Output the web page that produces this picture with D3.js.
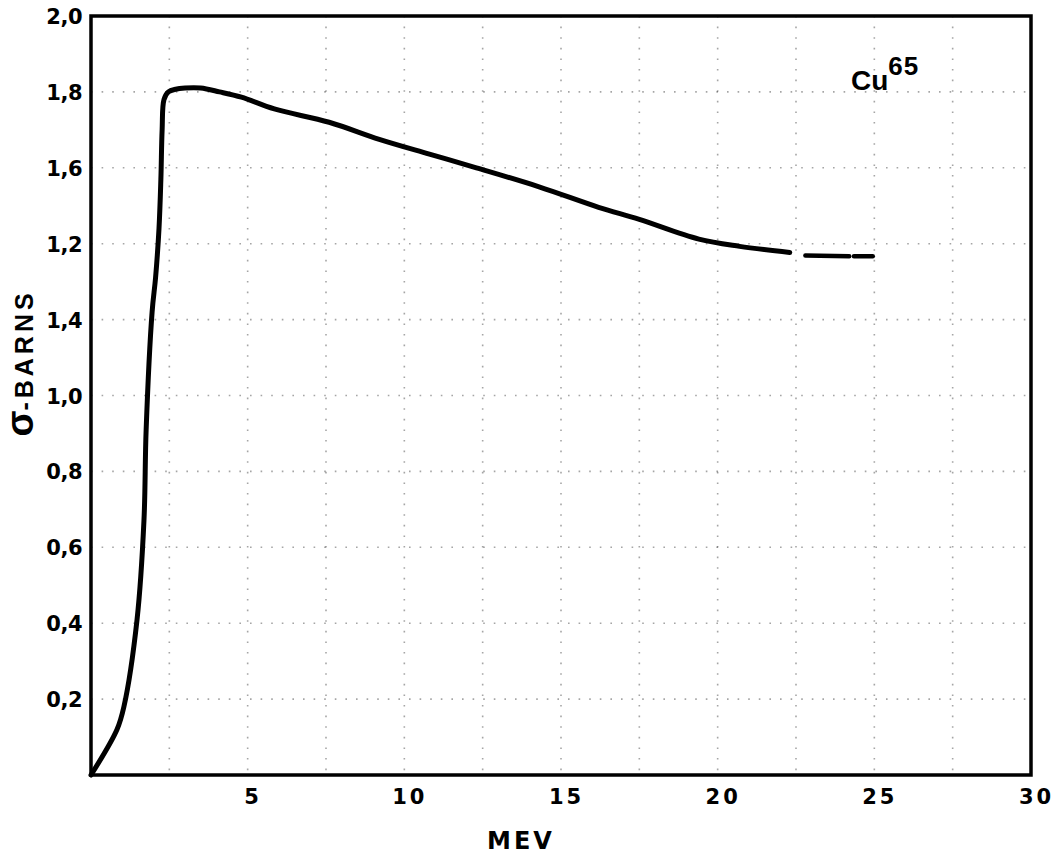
<!DOCTYPE html>
<html><head><meta charset="utf-8">
<script src="https://cdn.jsdelivr.net/npm/d3@7"></script>
<style>body{margin:0;background:#fff}</style>
</head><body>
<svg id="c" width="1058" height="860"></svg>
<script>
// ---- data ----
const energyMeV  = [0, 0.83, 1.05, 1.47, 1.69, 1.76, 1.95, 2.06, 2.17, 2.23, 2.27, 2.33, 2.47, 2.7, 3.0, 3.5, 4.1, 4.8, 5.85, 7.6, 9.2, 10.8, 12.3, 14.3, 16.2, 17.5, 19.4, 20.7, 22.3];
const sigmaBarns = [0, 0.12, 0.18, 0.41, 0.67, 0.91, 1.22, 1.31, 1.44, 1.57, 1.70, 1.78, 1.80, 1.807, 1.81, 1.81, 1.80, 1.786, 1.755, 1.72, 1.675, 1.636, 1.60, 1.55, 1.496, 1.464, 1.412, 1.393, 1.377];
const dashEnergy = [[22.8, 24.2], [24.35, 24.95]];
const dashSigma  = [[1.369, 1.367], [1.367, 1.367]];
const xTickValues = [5, 10, 15, 20, 25, 30];
const xTickLabels = ["5", "10", "15", "20", "25", "30"];
const yTickValues = [0.2, 0.4, 0.6, 0.8, 1.0, 1.2, 1.4, 1.6, 1.8, 2.0];
const yTickLabels = ["0,2", "0,4", "0,6", "0,8", "1,0", "1,4", "1,2", "1,6", "1,8", "2,0"];
const xGridValues = [2.5, 5, 7.5, 10, 12.5, 15, 17.5, 20, 22.5, 25, 27.5];
const yGridValues = [0.2, 0.4, 0.6, 0.8, 1.0, 1.2, 1.4, 1.6, 1.8];
const xTitle = "MEV";
const yTitleSymbol = "σ";
const yTitleText = "-BARNS";
const isotope = "Cu";
const massNumber = "65";

// ---- layout ----
const L = 91, R = 1031, T = 16, B = 775;
const svg = d3.select("#c");
const x = d3.scaleLinear().domain([0, 30]).range([L, R]);
const y = d3.scaleLinear().domain([0, 2]).range([B, T]);
const font = "'DejaVu Sans', sans-serif";

// dotted grid (faint, like the scan)
svg.append("g").selectAll("line").data(xGridValues).join("line")
  .attr("x1", d => x(d)).attr("x2", d => x(d)).attr("y1", T).attr("y2", B)
  .attr("stroke", "#000").attr("stroke-width", 1.6).attr("stroke-dasharray", "1.6 9").attr("opacity", 0.35);
svg.append("g").selectAll("line").data(yGridValues).join("line")
  .attr("y1", d => y(d)).attr("y2", d => y(d)).attr("x1", L).attr("x2", R)
  .attr("stroke", "#000").attr("stroke-width", 1.6).attr("stroke-dasharray", "1.6 9").attr("opacity", 0.35);

// axes
const xAxis = svg.append("g").attr("transform", `translate(0,${B})`)
  .call(d3.axisBottom(x).tickValues(xTickValues).tickSize(0).tickPadding(0)
    .tickFormat((d, i) => xTickLabels[i]));
xAxis.select(".domain").remove();
xAxis.selectAll("text").attr("y", 29).attr("dy", 0).attr("dx", 5)
  .attr("font-family", font).attr("font-weight", "bold").attr("font-size", 21)
  .attr("letter-spacing", 3).attr("fill", "#000");

const yAxis = svg.append("g").attr("transform", `translate(${L},0)`)
  .call(d3.axisLeft(y).tickValues(yTickValues).tickSize(0).tickPadding(9)
    .tickFormat((d, i) => yTickLabels[i]));
yAxis.select(".domain").remove();
yAxis.selectAll("text").attr("dy", "0.36em").attr("dx", 0)
  .attr("font-family", font).attr("font-weight", "bold").attr("font-size", 21)
  .attr("letter-spacing", -0.5).attr("fill", "#000");

// frame
svg.append("rect").attr("x", L).attr("y", T).attr("width", R - L).attr("height", B - T)
  .attr("fill", "none").attr("stroke", "#000").attr("stroke-width", 3.5);

// curve
const pts = energyMeV.map((e, i) => [e, sigmaBarns[i]]);
const line = d3.line().x(d => x(d[0])).y(d => y(d[1])).curve(d3.curveCatmullRom.alpha(0.5));
svg.append("path").attr("d", line(pts)).attr("fill", "none").attr("stroke", "#000")
  .attr("stroke-width", 5).attr("stroke-linejoin", "round").attr("stroke-linecap", "round");
dashEnergy.forEach((seg, k) => {
  const p = seg.map((e, i) => [e, dashSigma[k][i]]);
  svg.append("path").attr("d", d3.line().x(d => x(d[0])).y(d => y(d[1]))(p))
    .attr("fill", "none").attr("stroke", "#000").attr("stroke-width", 4.5).attr("stroke-linecap", "round");
});

// titles
svg.append("text").attr("x", 521).attr("y", 849).attr("text-anchor", "middle")
  .attr("font-family", font).attr("font-weight", "bold").attr("font-size", 24)
  .attr("letter-spacing", 3).text(xTitle);

const yt = svg.append("text").attr("transform", "translate(33,363) rotate(-90)")
  .attr("text-anchor", "middle").attr("font-family", "'Liberation Sans', Arial, sans-serif")
  .attr("font-weight", "bold");
yt.append("tspan").attr("font-size", 38).text(yTitleSymbol);
yt.append("tspan").attr("font-size", 25).attr("letter-spacing", 4).text(yTitleText);

const lab = svg.append("text").attr("x", 851).attr("y", 90)
  .attr("font-family", "'Liberation Sans', Arial, sans-serif").attr("font-weight", "bold");
lab.append("tspan").attr("font-size", 28).text(isotope);
lab.append("tspan").attr("font-size", 26).attr("dy", -15).attr("letter-spacing", 1).text(massNumber);
</script>
</body></html>
